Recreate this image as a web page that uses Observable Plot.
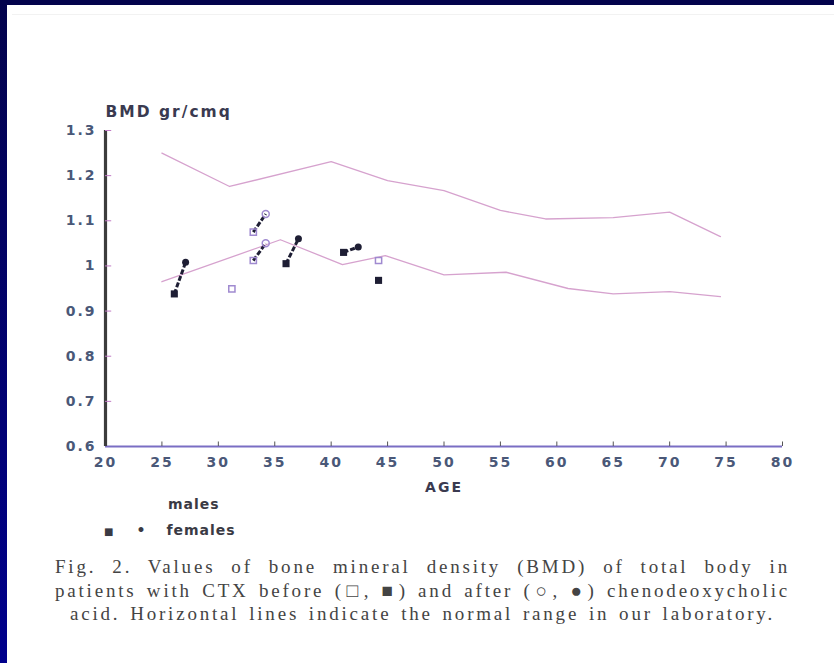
<!DOCTYPE html>
<html>
<head>
<meta charset="utf-8">
<script src="https://cdn.jsdelivr.net/npm/d3@7"></script>
<script src="https://cdn.jsdelivr.net/npm/@observablehq/plot@0.6"></script>
<style>
  html, body { margin: 0; padding: 0; background: #fff; }
  #page { position: relative; width: 834px; height: 663px; overflow: hidden; background: #fff; }
  #topbar { position: absolute; left: 0; top: 0; width: 834px; height: 5px; background: #03034c; }
  #leftbar { position: absolute; left: 0; top: 0; width: 7px; height: 663px; background: linear-gradient(#03034c, #00008c); }
  #inner { position: absolute; left: 12px; top: 14px; width: 822px; height: 1px; background: #f2f2f2; }
  #chart { position: absolute; left: 0; top: 0; }
  .legend { position: absolute; font-family: "DejaVu Sans", sans-serif; font-weight: bold; font-size: 14px; color: #3a3a44; letter-spacing: 1px; }
  .cap { position: absolute; font-family: "Liberation Serif", "DejaVu Serif", serif; font-size: 19px; line-height: 20px; color: #444; text-align: justify; text-align-last: justify; letter-spacing: 2.8px; white-space: nowrap; }
</style>
</head>
<body>
<div id="page">
  <div id="topbar"></div>
  <div id="leftbar"></div>
  <div id="inner"></div>
  <div id="chart"></div>
  <div class="legend" style="left:168px; top:496px;">males</div>
  <div class="legend" style="left:104px; top:522px;"><span style="font-size:10px;">■</span><span style="margin-left:22px;">•</span><span style="margin-left:20px;">females</span></div>
  <div class="cap" style="left:55px; top:557px; width:735px;">Fig. 2. Values of bone mineral density (BMD) of total body in</div>
  <div class="cap" style="left:55px; top:581px; width:735px;">patients with CTX before (□, ■) and after (○, ●) chenodeoxycholic</div>
  <div class="cap" style="left:70px; top:604px; width:705px;">acid. Horizontal lines indicate the normal range in our laboratory.</div>
</div>
<script>
// Axis ticks
const xTicks = [20, 25, 30, 35, 40, 45, 50, 55, 60, 65, 70, 75, 80];
const yTicks = [0.6, 0.7, 0.8, 0.9, 1.0, 1.1, 1.2, 1.3];

// Normal range (upper and lower boundary lines)
const upperAge = [25, 31, 40, 45, 50, 55, 59, 65, 70, 74.5];
const upperBmd = [1.25, 1.176, 1.231, 1.189, 1.167, 1.123, 1.104, 1.107, 1.119, 1.065];
const lowerAge = [25, 35.5, 41, 44.8, 50, 55.5, 61, 65, 70, 74.5];
const lowerBmd = [0.965, 1.058, 1.003, 1.023, 0.98, 0.986, 0.95, 0.938, 0.943, 0.932];

// Patients with before/after measurements
const pairSex = ["female", "male", "male", "female", "female"];
const beforeAge = [26.1, 33.1, 33.1, 36.0, 41.1];
const beforeBmd = [0.938, 1.075, 1.012, 1.005, 1.030];
const afterAge = [27.1, 34.2, 34.2, 37.1, 42.4];
const afterBmd = [1.008, 1.115, 1.050, 1.060, 1.042];

// Patients with a single measurement
const singleSex = ["male", "male", "female"];
const singleAge = [31.2, 44.2, 44.2];
const singleBmd = [0.949, 1.012, 0.968];

const upper = upperAge.map((a, i) => ({age: a, bmd: upperBmd[i]}));
const lower = lowerAge.map((a, i) => ({age: a, bmd: lowerBmd[i]}));
const pairs = beforeAge.map((a, i) => ({sex: pairSex[i], a0: a, b0: beforeBmd[i], a1: afterAge[i], b1: afterBmd[i]}));
const singles = singleAge.map((a, i) => ({sex: singleSex[i], age: a, bmd: singleBmd[i]}));

const dark = "#1e1e34";
const openCol = "#a08ad0";
const lineCol = "#d6a2ce";

const chart = Plot.plot({
  width: 834,
  height: 500,
  marginLeft: 105,
  marginRight: 52,
  marginTop: 130,
  marginBottom: 54,
  style: {background: "transparent", fontFamily: "DejaVu Sans, sans-serif", overflow: "visible"},
  x: {domain: [20, 80]},
  y: {domain: [0.6, 1.3]},
  marks: [
    // normal range lines
    Plot.line(upper, {x: "age", y: "bmd", stroke: lineCol, strokeWidth: 1.3}),
    Plot.line(lower, {x: "age", y: "bmd", stroke: lineCol, strokeWidth: 1.3}),
    // before/after connectors
    Plot.link(pairs, {x1: "a0", y1: "b0", x2: "a1", y2: "b1", stroke: dark, strokeWidth: 3, strokeDasharray: "5,2"}),
    // before (squares)
    Plot.dot(pairs.filter(d => d.sex === "female"), {x: "a0", y: "b0", symbol: "square", r: 4, fill: dark}),
    Plot.dot(pairs.filter(d => d.sex === "male"), {x: "a0", y: "b0", symbol: "square", r: 3.5, stroke: openCol, strokeWidth: 1.5, fill: "none"}),
    // after (circles)
    Plot.dot(pairs.filter(d => d.sex === "female"), {x: "a1", y: "b1", r: 3.5, fill: dark}),
    Plot.dot(pairs.filter(d => d.sex === "male"), {x: "a1", y: "b1", r: 3.5, stroke: openCol, strokeWidth: 1.5, fill: "none"}),
    // single measurements
    Plot.dot(singles.filter(d => d.sex === "female"), {x: "age", y: "bmd", symbol: "square", r: 4, fill: dark}),
    Plot.dot(singles.filter(d => d.sex === "male"), {x: "age", y: "bmd", symbol: "square", r: 3.5, stroke: openCol, strokeWidth: 1.5, fill: "none"}),
    // axes lines
    Plot.ruleY([0.6], {x1: 20, x2: 80, stroke: "#7a6ec4", strokeWidth: 2.2}),
    Plot.ruleX([20], {y1: 0.6, y2: 1.3, stroke: "#3c3c3c", strokeWidth: 3.2}),
    // inward ticks
    Plot.ruleY(yTicks.slice(1), {y: d => d, x1: 20, x2: 20.55, stroke: "#c07ac4", strokeWidth: 1}),
    Plot.ruleX(xTicks.slice(1), {x: d => d, y1: 0.6, y2: 0.61, stroke: "#555", strokeWidth: 1}),
    // tick labels
    Plot.axisX({ticks: xTicks, tickSize: 0, tickPadding: 11, fontSize: 14, fontWeight: "bold", fill: "#4a5878", tickFormat: d => String(d), line: false, label: null}),
    Plot.axisY({ticks: yTicks, tickSize: 0, tickPadding: 9, fontSize: 14, fontWeight: "bold", fill: "#4a5878", tickFormat: d => String(+d.toFixed(1)), line: false, label: null}),
    // axis titles
    Plot.text(["AGE"], {frameAnchor: "bottom", dy: 41, text: d => d, fontSize: 14, fontWeight: "bold", fill: "#3a3a50", lineAnchor: "middle"}),
    Plot.text(["BMD gr/cmq"], {frameAnchor: "top-left", dy: -18, textAnchor: "start", text: d => d, fontSize: 15.5, fontWeight: "bold", fill: "#3a3a50", lineAnchor: "middle"})
  ]
});
chart.querySelectorAll("text").forEach(t => t.style.letterSpacing = "2px");
document.getElementById("chart").appendChild(chart);
</script>
</body>
</html>
